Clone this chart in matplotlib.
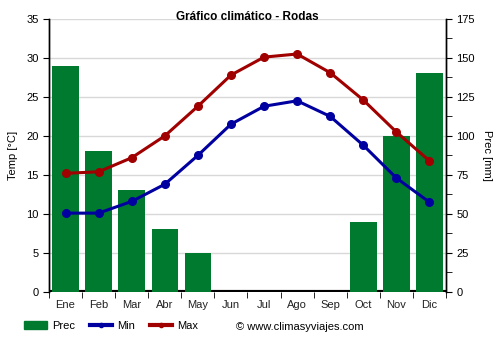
import matplotlib
matplotlib.use('Agg')
import matplotlib.pyplot as plt
import numpy as np
from matplotlib.lines import Line2D
from matplotlib.patches import Patch
from matplotlib.ticker import MultipleLocator

plt.rcParams['font.family'] = ['Liberation Sans', 'DejaVu Sans']

meses = ['Ene', 'Feb', 'Mar', 'Abr', 'May', 'Jun', 'Jul', 'Ago', 'Sep', 'Oct', 'Nov', 'Dic']
prec = [145, 90, 65, 40, 25, 0, 0, 0, 0, 45, 100, 140]
t_min = [10.1, 10.1, 11.6, 13.8, 17.5, 21.5, 23.8, 24.5, 22.5, 18.8, 14.6, 11.5]
t_max = [15.2, 15.4, 17.2, 20.0, 23.8, 27.8, 30.1, 30.5, 28.1, 24.6, 20.5, 16.8]

verde = '#007a2f'
azul = '#0000a0'
rojo = '#a00000'

fig = plt.figure(figsize=(5, 3.5), dpi=100)
ax = fig.add_axes([0.098, 0.166, 0.794, 0.780])
ax2 = ax.twinx()

x = np.arange(len(meses))

# Barras de precipitación en el eje derecho, por detrás de las temperaturas
ax2.bar(x, prec, width=0.8, color=verde, zorder=2)
ax2.axhline(0, color='black', lw=3, zorder=1)
ax2.set_ylim(0, 175)
ax2.yaxis.set_major_locator(MultipleLocator(25))
ax2.yaxis.set_minor_locator(MultipleLocator(12.5))
ax2.set_ylabel('Prec [mm]', rotation=270, labelpad=12, fontsize=8)

ax.set_zorder(ax2.get_zorder() + 1)
ax.patch.set_visible(False)
ax2.set_zorder(0)

ax.plot(x, t_min, color=azul, lw=2.2, marker='o', ms=5.5, zorder=5)
ax.plot(x, t_max, color=rojo, lw=2.2, marker='o', ms=5.5, zorder=5)
ax.set_ylim(0, 35)
ax.set_xlim(-0.5, 11.5)
ax.yaxis.set_major_locator(MultipleLocator(5))
ax.set_ylabel('Temp [°C]', fontsize=8, labelpad=6)

# Rejilla: verticales entre meses, horizontales cada 5 grados
ax2.set_xticks(np.arange(-0.5, 12, 1), minor=True)
ax2.grid(True, which='minor', axis='x', color='#d8d8d8', lw=1, zorder=0)
for yv in np.arange(5, 36, 5):
    ax2.axhline(yv * 5, color='#d8d8d8', lw=1, zorder=0)

ax.set_xticks(x)
ax.set_xticklabels(meses)
ax.set_xticks(np.arange(-0.5, 12, 1), minor=True)
ax.tick_params(axis='x', which='major', length=0, labelsize=8, pad=6, colors='#222222')
ax.tick_params(axis='x', which='minor', length=4, direction='out')
ax.tick_params(axis='y', labelsize=8, length=4)
ax2.tick_params(axis='y', which='major', labelsize=8, length=4)
ax2.tick_params(axis='y', which='minor', length=4)

for a in (ax, ax2):
    a.spines['top'].set_visible(False)
    a.spines['bottom'].set_visible(False)
    a.spines['left'].set_linewidth(1)
    a.spines['right'].set_linewidth(1)

fig.text(0.495, 0.951, 'Gráfico climático - Rodas', ha='center', va='center',
         fontsize=8.5, fontweight='bold')

handles = [
    Patch(color=verde, label='Prec'),
    Line2D([0], [0], color=azul, lw=3, marker='o', ms=3, label='Min'),
    Line2D([0], [0], color=rojo, lw=3, marker='o', ms=3, label='Max'),
]
fig.legend(handles=handles, loc='center left', bbox_to_anchor=(0.031, 0.069), ncol=3,
           frameon=False, fontsize=8, handlelength=2.0, handleheight=0.8,
           columnspacing=1.3, handletextpad=0.5, borderpad=0.3)
fig.text(0.472, 0.066, '© www.climasyviajes.com', ha='left', va='center', fontsize=8)

fig.savefig('out.png', dpi=100)
